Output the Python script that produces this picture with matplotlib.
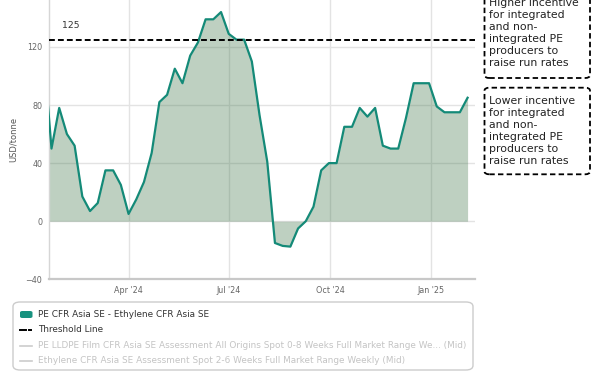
import matplotlib
matplotlib.use("Agg")
import matplotlib.pyplot as plt
from matplotlib.patches import FancyBboxPatch
from matplotlib.lines import Line2D
import pandas as pd

plt.rcParams['font.family'] = ['DejaVu Sans']

# ---- data ----
start_date = "2024-01-15"
spread_values = [115, 50, 78, 60, 52, 17, 7, 12.5, 35, 35, 25, 5, 15, 27, 47, 82, 87,
                 105, 95, 114, 123, 139, 139, 144, 129, 125, 125, 110, 73, 41, -15,
                 -17, -17.5, -5, 0, 10, 35, 40, 40, 65, 65, 78, 72, 78, 52, 50, 50,
                 71, 95, 95, 95, 79, 75, 75, 75, 85]
threshold = 125
y_ticks = [-40, 0, 40, 80, 120]
x_tick_dates = ["2024-04-01", "2024-07-01", "2024-10-01", "2025-01-01"]
x_tick_labels = ["Apr '24", "Jul '24", "Oct '24", "Jan '25"]
legend_labels = ["PE CFR Asia SE - Ethylene CFR Asia SE",
                 "Threshold Line",
                 "PE LLDPE Film CFR Asia SE Assessment All Origins Spot 0-8 Weeks Full Market Range We... (Mid)",
                 "Ethylene CFR Asia SE Assessment Spot 2-6 Weeks Full Market Range Weekly (Mid)"]
box_texts = ["Higher incentive\nfor integrated\nand non-\nintegrated PE\nproducers to\nraise run rates",
             "Lower incentive\nfor integrated\nand non-\nintegrated PE\nproducers to\nraise run rates"]
y_label = "USD/tonne"

dates = pd.date_range(start_date, periods=len(spread_values), freq="7D")

W, H = 602, 375
fig = plt.figure(figsize=(W / 100, H / 100), dpi=100)

def fx(px):
    return px / W

def fy(py):
    return 1 - py / H

ax_left, ax_right, ax_top, ax_bottom = 49.3, 475.3, 0, 279.3
ax = fig.add_axes([fx(ax_left), fy(ax_bottom), fx(ax_right - ax_left), (ax_bottom - ax_top) / H])

line_color = "#148a78"
fill_rgb = (69 / 255, 121 / 255, 78 / 255)

ax.fill_between(dates, spread_values, 0, color=fill_rgb, alpha=0.35, lw=0, zorder=2)
ax.plot(dates, spread_values, color=line_color, lw=1.6, zorder=3)
ax.axhline(threshold, color="black", lw=1.4, dashes=(3, 1.6), zorder=4)

ax.set_xlim(pd.Timestamp("2024-01-20"), pd.Timestamp("2025-02-10"))
ax.set_ylim(-40, 152.3)
ax.set_yticks(y_ticks)
ax.set_xticks(pd.to_datetime(x_tick_dates))
ax.set_xticklabels(x_tick_labels)
ax.grid(True, color="#e3e3e3", lw=1.0, zorder=0)
ax.set_axisbelow(True)
ax.tick_params(axis="both", length=0, labelsize=5.8, colors="#666666")
ax.tick_params(axis="y", pad=5)
ax.tick_params(axis="x", pad=5)
for s in ["top", "right"]:
    ax.spines[s].set_visible(False)
ax.spines["left"].set_color("#d6d6d6")
ax.spines["left"].set_linewidth(1.0)
ax.spines["bottom"].set_color("#c8c8c8")
ax.spines["bottom"].set_linewidth(1.6)
ax.set_ylabel(y_label, fontsize=6, color="#555555", labelpad=6)

# threshold label
fig.text(fx(62), fy(25), str(threshold), fontsize=6.7, color="#333333", ha="left", va="center")

# annotation boxes
def dashed_box(x0, y0, x1, y1):
    p = FancyBboxPatch((fx(x0), fy(y1)), fx(x1 - x0), (y1 - y0) / H,
                       boxstyle="round,pad=0,rounding_size=0.008",
                       transform=fig.transFigure, fill=False, edgecolor="black",
                       lw=1.3, linestyle=(0, (3, 1.8)))
    fig.add_artist(p)

dashed_box(484.5, -10, 590, 78)
dashed_box(484.5, 87.7, 590, 174.3)
fig.text(fx(489), fy(-2.5), box_texts[0], fontsize=7.8, color="#222222", ha="left", va="top",
         linespacing=1.27)
fig.text(fx(489), fy(95.5), box_texts[1], fontsize=7.8, color="#222222", ha="left", va="top",
         linespacing=1.27)

# legend
leg_box = FancyBboxPatch((fx(13), fy(370)), fx(473 - 13), (370 - 302) / H,
                         boxstyle="round,pad=0,rounding_size=0.012",
                         transform=fig.transFigure, fill=False, edgecolor="#cccccc", lw=1.0)
fig.add_artist(leg_box)
rows_y = [314.5, 330, 345.5, 360.5]
sw = FancyBboxPatch((fx(20), fy(rows_y[0] + 3.5)), fx(12.5), 7 / H,
                    boxstyle="round,pad=0,rounding_size=0.004",
                    transform=fig.transFigure, facecolor="#17927f", edgecolor="none")
fig.add_artist(sw)
fig.add_artist(Line2D([fx(20), fx(26)], [fy(rows_y[1])] * 2, transform=fig.transFigure,
                      color="black", lw=1.4))
fig.add_artist(Line2D([fx(29), fx(31)], [fy(rows_y[1])] * 2, transform=fig.transFigure,
                      color="black", lw=1.4))
for r in (2, 3):
    fig.add_artist(Line2D([fx(20), fx(32)], [fy(rows_y[r])] * 2, transform=fig.transFigure,
                          color="#cccccc", lw=1.2))
text_colors = ["#333333", "#333333", "#c4c4c4", "#c4c4c4"]
for r in range(4):
    fig.text(fx(38), fy(rows_y[r]), legend_labels[r], fontsize=6.4, color=text_colors[r],
             ha="left", va="center")

fig.savefig("out.png", dpi=100)
